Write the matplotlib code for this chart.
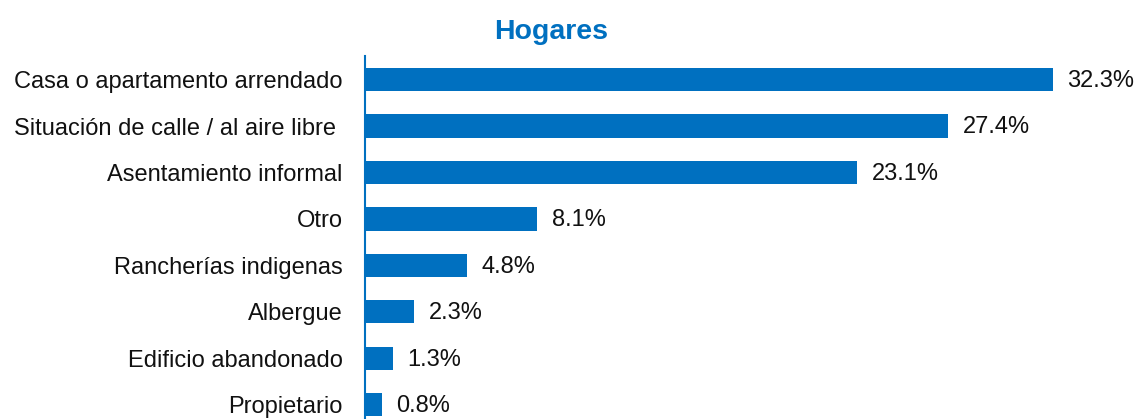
import matplotlib.pyplot as plt

plt.rcParams['font.family'] = ['Liberation Sans', 'DejaVu Sans']

categories = ['Casa o apartamento arrendado', 'Situación de calle / al aire libre ',
              'Asentamiento informal', 'Otro', 'Rancherías indigenas', 'Albergue',
              'Edificio abandonado', 'Propietario']
values = [32.3, 27.4, 23.1, 8.1, 4.8, 2.3, 1.3, 0.8]
value_labels = ['32.3%', '27.4%', '23.1%', '8.1%', '4.8%', '2.3%', '1.3%', '0.8%']

blue = '#0070C0'

fig = plt.figure(figsize=(11.39, 4.19), dpi=100)
ax = fig.add_axes([365 / 1139, 0, 774 / 1139, 363 / 419])

y = list(range(len(categories)))
ax.barh(y, values, height=0.5, color=blue)

for yi, v, lab in zip(y, values, value_labels):
    ax.annotate(lab, (v, yi), xytext=(10.5, -1), textcoords='offset points',
                va='center', ha='left', fontsize=17, color='#111111')

ax.set_xlim(0, 774 / 21.29)
ax.set_ylim(7.31, -0.51)
ax.set_yticks(y)
ax.set_yticklabels(categories, fontsize=17, color='#111111')
ax.tick_params(axis='y', length=0, pad=16)
ax.set_xticks([])

for s in ['top', 'right', 'bottom']:
    ax.spines[s].set_visible(False)
ax.spines['left'].set_color(blue)
ax.spines['left'].set_linewidth(1.5)

fig.text(551 / 1139, 1 - 32 / 419, 'Hogares', ha='center', va='center',
         fontsize=20.5, fontweight='bold', color=blue)

fig.savefig('out.png', dpi=100)
